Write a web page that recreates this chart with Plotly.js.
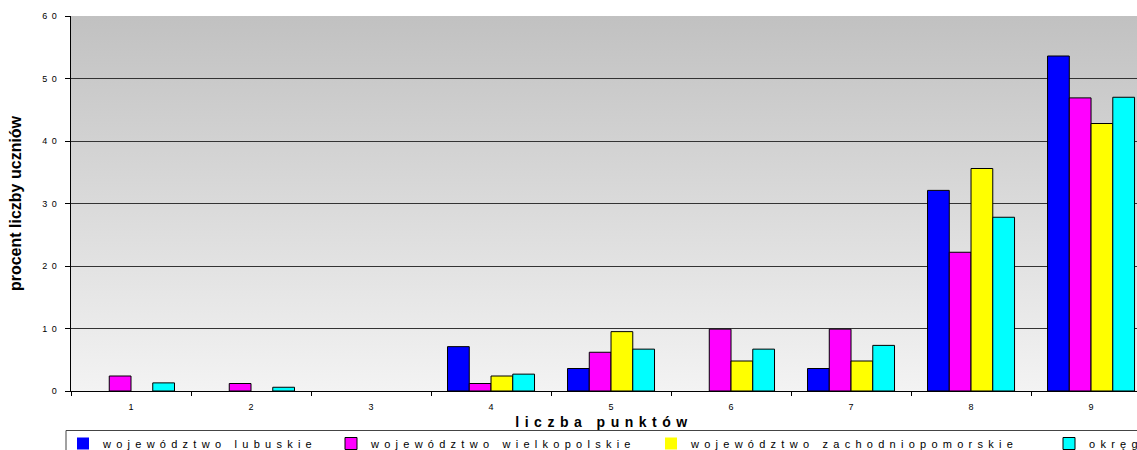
<!DOCTYPE html>
<html>
<head>
<meta charset="utf-8">
<script src="https://cdn.plot.ly/plotly-3.0.1.min.js"></script>
<style>
  html, body { margin: 0; padding: 0; background: #fff; }
  #chart {
    width: 1137px; height: 450px;
    background: linear-gradient(#c1c1c1, #f3f3f3) 71px 16px / 1066px 375px no-repeat, #ffffff;
  }
  .xtitle { letter-spacing: 5.5px; }
  .ytick text { letter-spacing: 4.5px; }
</style>
</head>
<body>
<div id="chart"></div>
<script>
// categories (liczba punktów)
var categories = ["1", "2", "3", "4", "5", "6", "7", "8", "9"];
// series names
var seriesNames = ["województwo lubuskie", "województwo wielkopolskie", "województwo zachodniopomorskie", "okręg"];
// series values (procent liczby uczniów)
var lubuskie = [0, 0, 0, 7.1, 3.6, 0, 3.6, 32.1, 53.6];
var wielkopolskie = [2.4, 1.2, 0, 1.2, 6.2, 9.9, 9.9, 22.2, 46.9];
var zachodniopomorskie = [0, 0, 0, 2.4, 9.5, 4.8, 4.8, 35.6, 42.8];
var okreg = [1.3, 0.6, 0, 2.7, 6.7, 6.7, 7.3, 27.8, 47.0];
// y tick labels
var yTickVals = [0, 10, 20, 30, 40, 50, 60];
var yTickText = ["0", "10", "20", "30", "40", "50", "60"];

var colors = ["#0000ff", "#ff00ff", "#ffff00", "#00ffff"];
var allValues = [lubuskie, wielkopolskie, zachodniopomorskie, okreg];
var legendIds = ["legend", "legend2", "legend3", "legend4"];

var FONT = "Liberation Sans, Arial, sans-serif";

// letter-spaced display of a name (as in the reference's spaced typography)
function spaced(s) {
  return s.split(" ").map(function (w) {
    return Array.from(w).join(" \u2009");
  }).join(" \u2009 \u2009 ");
}

var traces = allValues.map(function (vals, i) {
  return {
    type: "bar",
    x: categories,
    y: vals,
    name: spaced(seriesNames[i]),
    legend: legendIds[i],
    marker: {
      color: colors[i],
      line: { color: "#000000", width: vals.map(function (v) { return v > 0 ? 1 : 0; }) }
    },
    hoverinfo: "x+y+name"
  };
});

// plot area in pixels: left 71, right 1137, top 16, bottom 391
var plotL = 71, plotW = 1066, plotT = 16, plotH = 375;
function px2x(p) { return (p - plotL) / plotW; }
function py2y(p) { return (plotT + plotH - p) / plotH; }

var legendX = [63, 331, 651, 1049];
var legendCommon = {
  orientation: "h",
  xanchor: "left",
  yanchor: "top",
  y: py2y(429),
  bgcolor: "rgba(0,0,0,0)",
  borderwidth: 0,
  font: { family: FONT, size: 11, color: "#000000" }
};
var layout = {
  width: 1137,
  height: 450,
  margin: { l: 71, r: 0, t: 16, b: 59, autoexpand: false },
  paper_bgcolor: "rgba(0,0,0,0)",
  plot_bgcolor: "rgba(0,0,0,0)",
  barmode: "group",
  bargap: 0.275,
  bargroupgap: 0,
  font: { family: FONT, color: "#000000" },
  xaxis: {
    type: "category",
    range: [-0.5, 8.383],
    showline: true,
    linecolor: "#000000",
    linewidth: 1,
    ticks: "outside",
    tickson: "boundaries",
    ticklen: 4,
    tickcolor: "#000000",
    showgrid: false,
    zeroline: false,
    tickfont: { family: FONT, size: 9, color: "#000000" },
    ticklabelstandoff: 7,
    title: { text: "liczba punktów", font: { family: FONT, size: 14, weight: "bold", color: "#000000" }, standoff: 6 },
    fixedrange: true
  },
  yaxis: {
    range: [0, 60],
    tickvals: yTickVals,
    ticktext: yTickText,
    showline: true,
    linecolor: "#000000",
    linewidth: 1,
    ticks: "outside",
    ticklen: 5,
    tickcolor: "#000000",
    showgrid: true,
    gridcolor: "#333333",
    gridwidth: 1,
    zeroline: false,
    tickfont: { family: FONT, size: 9, color: "#000000" },
    ticklabelstandoff: 2,
    title: { text: "procent liczby uczniów", font: { family: FONT, size: 16, weight: "bold", color: "#000000" }, standoff: 16 },
    fixedrange: true
  },
  showlegend: true,
  shapes: [{
    type: "rect", xref: "paper", yref: "paper", layer: "above",
    x0: px2x(66), x1: px2x(1150), y0: py2y(430.5), y1: py2y(470),
    line: { color: "#444444", width: 1 },
    fillcolor: "rgba(0,0,0,0)"
  }]
};
legendIds.forEach(function (id, i) {
  var l = JSON.parse(JSON.stringify(legendCommon));
  l.x = px2x(legendX[i]);
  layout[id] = l;
});

Plotly.newPlot("chart", traces, layout, { staticPlot: true, displayModeBar: false });
</script>
</body>
</html>
